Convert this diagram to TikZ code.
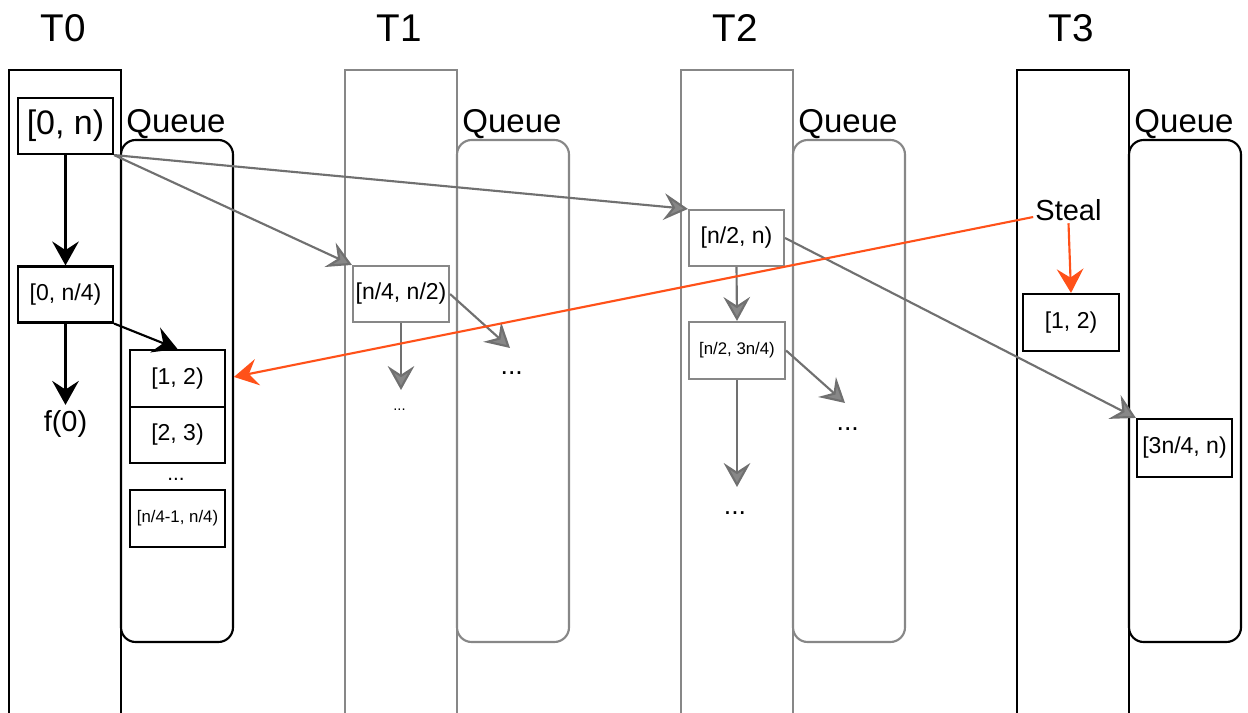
\documentclass[tikz,border=0pt]{standalone}
\usepackage{fontspec}
\setmainfont{Liberation Sans}
\usetikzlibrary{arrows.meta}
\definecolor{tgray}{RGB}{135,135,135}
\definecolor{agray}{RGB}{112,112,112}
\definecolor{stealorange}{RGB}{255,81,25}
\begin{document}
\begin{tikzpicture}[x=0.75pt,y=-0.75pt,
  fs/.style={font=\fontsize{#1pt}{#1pt}\selectfont},
  lbl/.style={anchor=base,inner sep=1pt},
  thr/.style={line width=1.6pt,draw=black},
  gthr/.style={line width=1.6pt,draw=tgray},
  que/.style={line width=1.6pt,draw=black,rounded corners=11pt},
  gque/.style={line width=1.6pt,draw=tgray,rounded corners=11pt},
  box/.style={draw=black,line width=1.6pt,inner sep=0pt,minimum width=71.25pt,minimum height=42pt},
  gbox/.style={box,draw=tgray},
  barr/.style={-{Stealth[length=18pt,width=20pt,inset=6.5pt]},line width=1.6pt,draw=black},
  garr/.style={-{Stealth[length=18pt,width=20pt,inset=6.5pt,fill=tgray]},line width=1.6pt,draw=agray},
  oarr/.style={-{Stealth[length=18pt,width=20pt,inset=6.5pt]},line width=1.6pt,draw=stealorange}]
\useasboundingbox (0,0) rectangle (1248,713);
% threads
\draw[thr]  (9,713) -- (9,70) -- (121,70) -- (121,713);
\draw[gthr] (345,713) -- (345,70) -- (457,70) -- (457,713);
\draw[gthr] (681,713) -- (681,70) -- (793,70) -- (793,713);
\draw[thr]  (1017,713) -- (1017,70) -- (1129,70) -- (1129,713);
% queues
\draw[que]  (121,140) rectangle (233,642);
\draw[gque] (457,140) rectangle (569,642);
\draw[gque] (793,140) rectangle (905,642);
\draw[que]  (1129,140) rectangle (1241,642);
% titles
\node[lbl,fs=29] (t0) at (63.5,42) {T0};
\node[lbl,fs=29] (t1) at (399.5,42) {T1};
\node[lbl,fs=29] (t2) at (735.5,42) {T2};
\node[lbl,fs=29] (t3) at (1071.5,42) {T3};
\node[lbl,fs=24.75] (ql0) at (176,133) {Queue};
\node[lbl,fs=24.75] (ql1) at (512,133) {Queue};
\node[lbl,fs=24.75] (ql2) at (848,133) {Queue};
\node[lbl,fs=24.75] (ql3) at (1184,133) {Queue};
% T0
\node[box,fs=25.5] (a0) at (65.5,126) {[0, n)};
\node[box,fs=17.25] (a1) at (65.5,294.5) {[0, n/4)};
\node[lbl,fs=21.75] (f0) at (65.5,431.5) {f(0)};
\node[box,fs=17.25,minimum height=42.75pt] (q1) at (177.5,378.5) {[1, 2)};
\node[box,fs=17.25] (q2) at (177.5,435) {[2, 3)};
\node[lbl,fs=15.5] (qd) at (176,480.7) {...};
\node[box,fs=12.6,minimum height=42.75pt] (q3) at (177.5,518.5) {[n/4-1, n/4)};
% T1
\node[gbox,fs=17.25,minimum width=72pt] (b1) at (401,294) {[n/4, n/2)};
\node[lbl,fs=11] (b1d) at (399.5,410.7) {...};
\node[lbl,fs=20] (b1r) at (511.7,374) {...};
\coordinate (b1t) at (401,390);
\coordinate (b1rt) at (510,348);
% T2
\node[gbox,fs=17.25] (c1) at (736.5,238) {[n/2, n)};
\node[gbox,fs=12.6,minimum width=72pt,minimum height=42.75pt] (c2) at (737,350.5) {[n/2, 3n/4)};
\node[lbl,fs=20] (c2r) at (847.7,430) {...};
\node[lbl,fs=20] (c2d) at (735,514) {...};
\coordinate (c2t) at (737,487);
\coordinate (c2rt) at (845,403);
% T3
\node[lbl,fs=21.75,inner sep=1.5pt] (st) at (1068.5,220.7) {Steal};
\node[box,fs=17.25,minimum width=72pt,minimum height=42.75pt] (d1) at (1071,322.5) {[1, 2)};
\node[box,fs=17.25,minimum height=43.5pt] (d2) at (1184.5,448) {[3n/4, n)};
% connectors
\draw[barr] (a0.south) -- (a1.north);
\draw[barr,shorten >=3pt] (a1.south) -- (f0.north);
\draw[barr] (a1.south east) -- (q1.north);
\draw[garr] (a0.south east) -- (b1.north west);
\draw[garr] (a0.south east) -- (c1.north west);
\draw[garr] (b1.south) -- (b1t);
\draw[garr] (b1.east) -- (b1rt);
\draw[garr] (c1.south) -- (c2.north);
\draw[garr] (c2.south) -- (c2t);
\draw[garr] (c2.east) -- (c2rt);
\draw[garr] (c1.east) -- (d2.north west);
\draw[oarr] (st.south) -- (d1.north);
\draw[oarr,shorten >=6pt] ([yshift=-5pt]st.west) -- (q1.east);
\end{tikzpicture}
\end{document}
